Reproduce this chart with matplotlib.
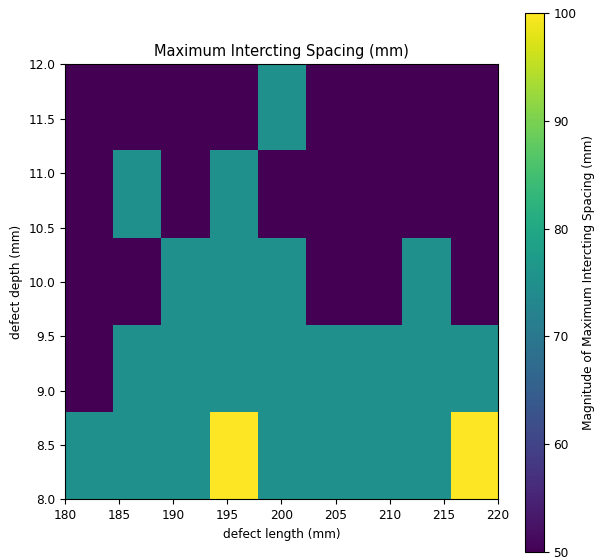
import numpy as np
import matplotlib
matplotlib.use("Agg")
import matplotlib.pyplot as plt

plt.rcParams['font.size'] = 8.75

# defect length range (mm) along x, defect depth range (mm) along y
length_range = [180, 220]
depth_range = [8, 12]

# maximum intercepting spacing (mm), rows from depth 8.0 up to 12.0,
# columns from length 180 to 220
spacing = np.array([
    [75, 75, 75, 100, 75, 75, 75, 75, 100],
    [50, 75, 75, 75, 75, 75, 75, 75, 75],
    [50, 50, 75, 75, 75, 50, 50, 75, 50],
    [50, 75, 50, 75, 50, 50, 50, 50, 50],
    [50, 50, 50, 50, 75, 50, 50, 50, 50],
])

fig = plt.figure(figsize=(6, 5.58), dpi=100)
ax = fig.add_axes([0.1083, 0.105, 0.7217, 0.7796])
cax = fig.add_axes([0.875, 0.0108, 0.031, 0.966])

im = ax.imshow(spacing, origin='lower', cmap='viridis', vmin=50, vmax=100,
               extent=length_range + depth_range, aspect='auto',
               interpolation='nearest')
ax.set_title('Maximum Intercting Spacing (mm)', fontsize=10.5)
ax.set_xlabel('defect length (mm)')
ax.set_ylabel('defect depth (mm)')

cbar = fig.colorbar(im, cax=cax)
cbar.set_label('Magnitude of Maximum Intercting Spacing (mm)')

fig.savefig('out.png', dpi=100)
